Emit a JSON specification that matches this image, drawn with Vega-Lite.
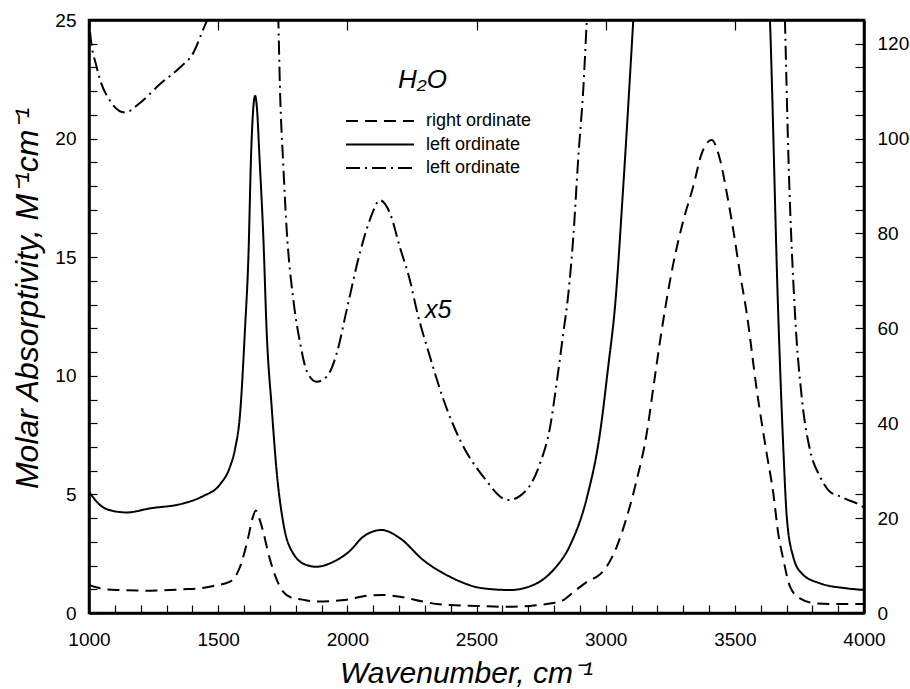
{
  "$schema": "https://vega.github.io/schema/vega-lite/v6.json",
  "width": 775,
  "height": 593,
  "autosize": {"type": "none"},
  "padding": {"left": 89, "top": 20, "right": 46, "bottom": 76},
  "background": "white",
  "config": {
    "font": "Liberation Sans",
    "view": {"stroke": "black", "strokeWidth": 2.5},
    "axis": {
      "domainColor": "black", "domainWidth": 2.5, "tickColor": "black", "tickWidth": 1.2,
      "labelColor": "black", "labelFontSize": 19, "labelFont": "Liberation Sans",
      "titleFont": "Liberation Sans", "titleFontStyle": "italic", "titleFontWeight": "normal",
      "titleFontSize": 30, "titleColor": "black", "grid": false, "zindex": 1,
      "labelOverlap": false, "labelFlush": false, "labelBound": false
    },
    "legend": {
      "symbolType": "stroke", "symbolSize": 4624, "symbolStrokeWidth": 2, "symbolStrokeColor": "black",
      "labelFontSize": 18, "labelFont": "Liberation Sans", "labelColor": "black", "labelOffset": 11
    }
  },
  "datasets": {
    "left": [
      {"x": 1000, "y": 5.11, "series": "left ordinate"},
      {"x": 1043, "y": 4.55, "series": "left ordinate"},
      {"x": 1094, "y": 4.30, "series": "left ordinate"},
      {"x": 1146, "y": 4.24, "series": "left ordinate"},
      {"x": 1236, "y": 4.41, "series": "left ordinate"},
      {"x": 1365, "y": 4.62, "series": "left ordinate"},
      {"x": 1440, "y": 4.92, "series": "left ordinate"},
      {"x": 1507, "y": 5.42, "series": "left ordinate"},
      {"x": 1546, "y": 6.17, "series": "left ordinate"},
      {"x": 1565, "y": 6.9, "series": "left ordinate"},
      {"x": 1585, "y": 8.43, "series": "left ordinate"},
      {"x": 1604, "y": 12.0, "series": "left ordinate"},
      {"x": 1617, "y": 15.0, "series": "left ordinate"},
      {"x": 1628, "y": 19.5, "series": "left ordinate"},
      {"x": 1636, "y": 21.3, "series": "left ordinate"},
      {"x": 1643, "y": 21.8, "series": "left ordinate"},
      {"x": 1650, "y": 21.3, "series": "left ordinate"},
      {"x": 1660, "y": 19.2, "series": "left ordinate"},
      {"x": 1675, "y": 15.8, "series": "left ordinate"},
      {"x": 1688, "y": 11.8, "series": "left ordinate"},
      {"x": 1707, "y": 8.7, "series": "left ordinate"},
      {"x": 1727, "y": 5.9, "series": "left ordinate"},
      {"x": 1752, "y": 3.8, "series": "left ordinate"},
      {"x": 1791, "y": 2.5, "series": "left ordinate"},
      {"x": 1843, "y": 2.02, "series": "left ordinate"},
      {"x": 1881, "y": 1.95, "series": "left ordinate"},
      {"x": 1946, "y": 2.16, "series": "left ordinate"},
      {"x": 2010, "y": 2.62, "series": "left ordinate"},
      {"x": 2062, "y": 3.22, "series": "left ordinate"},
      {"x": 2133, "y": 3.50, "series": "left ordinate"},
      {"x": 2204, "y": 3.15, "series": "left ordinate"},
      {"x": 2294, "y": 2.23, "series": "left ordinate"},
      {"x": 2397, "y": 1.53, "series": "left ordinate"},
      {"x": 2526, "y": 1.04, "series": "left ordinate"},
      {"x": 2630, "y": 0.97, "series": "left ordinate"},
      {"x": 2733, "y": 1.25, "series": "left ordinate"},
      {"x": 2797, "y": 1.81, "series": "left ordinate"},
      {"x": 2862, "y": 2.85, "series": "left ordinate"},
      {"x": 2927, "y": 4.85, "series": "left ordinate"},
      {"x": 2978, "y": 7.58, "series": "left ordinate"},
      {"x": 3010, "y": 10.4, "series": "left ordinate"},
      {"x": 3036, "y": 12.9, "series": "left ordinate"},
      {"x": 3068, "y": 17.97, "series": "left ordinate"},
      {"x": 3107, "y": 25.0, "series": "left ordinate"},
      {"x": 3150, "y": 33.0, "series": "left ordinate"},
      {"x": 3600, "y": 33.0, "series": "left ordinate"},
      {"x": 3636, "y": 25.0, "series": "left ordinate"},
      {"x": 3668, "y": 12.6, "series": "left ordinate"},
      {"x": 3688, "y": 6.87, "series": "left ordinate"},
      {"x": 3701, "y": 4.06, "series": "left ordinate"},
      {"x": 3726, "y": 2.37, "series": "left ordinate"},
      {"x": 3759, "y": 1.67, "series": "left ordinate"},
      {"x": 3830, "y": 1.25, "series": "left ordinate"},
      {"x": 3933, "y": 1.04, "series": "left ordinate"},
      {"x": 4000, "y": 0.97, "series": "left ordinate"},

      {"x": 1000, "y": 25.6, "series": "left ordinate x5"},
      {"x": 1004, "y": 24.5, "series": "left ordinate x5"},
      {"x": 1030, "y": 23.0, "series": "left ordinate x5"},
      {"x": 1081, "y": 21.6, "series": "left ordinate x5"},
      {"x": 1139, "y": 21.1, "series": "left ordinate x5"},
      {"x": 1197, "y": 21.5, "series": "left ordinate x5"},
      {"x": 1275, "y": 22.3, "series": "left ordinate x5"},
      {"x": 1352, "y": 23.0, "series": "left ordinate x5"},
      {"x": 1403, "y": 23.6, "series": "left ordinate x5"},
      {"x": 1442, "y": 24.6, "series": "left ordinate x5"},
      {"x": 1457, "y": 25.0, "series": "left ordinate x5"},
      {"x": 1480, "y": 26.0, "series": "left ordinate x5"},
      {"x": 1720, "y": 31.0, "series": "left ordinate x5"},
      {"x": 1733, "y": 25.0, "series": "left ordinate x5"},
      {"x": 1739, "y": 22.2, "series": "left ordinate x5"},
      {"x": 1752, "y": 18.9, "series": "left ordinate x5"},
      {"x": 1765, "y": 16.2, "series": "left ordinate x5"},
      {"x": 1791, "y": 13.2, "series": "left ordinate x5"},
      {"x": 1817, "y": 11.4, "series": "left ordinate x5"},
      {"x": 1843, "y": 10.2, "series": "left ordinate x5"},
      {"x": 1881, "y": 9.75, "series": "left ordinate x5"},
      {"x": 1920, "y": 9.96, "series": "left ordinate x5"},
      {"x": 1959, "y": 10.95, "series": "left ordinate x5"},
      {"x": 1998, "y": 12.8, "series": "left ordinate x5"},
      {"x": 2049, "y": 15.2, "series": "left ordinate x5"},
      {"x": 2088, "y": 16.6, "series": "left ordinate x5"},
      {"x": 2126, "y": 17.4, "series": "left ordinate x5"},
      {"x": 2165, "y": 16.85, "series": "left ordinate x5"},
      {"x": 2204, "y": 15.4, "series": "left ordinate x5"},
      {"x": 2243, "y": 14.0, "series": "left ordinate x5"},
      {"x": 2270, "y": 12.7, "series": "left ordinate x5"},
      {"x": 2320, "y": 10.8, "series": "left ordinate x5"},
      {"x": 2372, "y": 9.0, "series": "left ordinate x5"},
      {"x": 2436, "y": 7.3, "series": "left ordinate x5"},
      {"x": 2526, "y": 5.75, "series": "left ordinate x5"},
      {"x": 2623, "y": 4.76, "series": "left ordinate x5"},
      {"x": 2694, "y": 5.19, "series": "left ordinate x5"},
      {"x": 2746, "y": 6.31, "series": "left ordinate x5"},
      {"x": 2785, "y": 7.85, "series": "left ordinate x5"},
      {"x": 2810, "y": 9.68, "series": "left ordinate x5"},
      {"x": 2836, "y": 11.8, "series": "left ordinate x5"},
      {"x": 2855, "y": 13.4, "series": "left ordinate x5"},
      {"x": 2875, "y": 15.9, "series": "left ordinate x5"},
      {"x": 2894, "y": 19.2, "series": "left ordinate x5"},
      {"x": 2914, "y": 22.2, "series": "left ordinate x5"},
      {"x": 2927, "y": 25.0, "series": "left ordinate x5"},
      {"x": 2950, "y": 29.6, "series": "left ordinate x5"},
      {"x": 3680, "y": 31.0, "series": "left ordinate x5"},
      {"x": 3694, "y": 25.0, "series": "left ordinate x5"},
      {"x": 3707, "y": 19.4, "series": "left ordinate x5"},
      {"x": 3733, "y": 12.6, "series": "left ordinate x5"},
      {"x": 3760, "y": 9.0, "series": "left ordinate x5"},
      {"x": 3791, "y": 6.87, "series": "left ordinate x5"},
      {"x": 3830, "y": 5.75, "series": "left ordinate x5"},
      {"x": 3868, "y": 5.11, "series": "left ordinate x5"},
      {"x": 3900, "y": 4.95, "series": "left ordinate x5"},
      {"x": 3933, "y": 4.79, "series": "left ordinate x5"},
      {"x": 3972, "y": 4.62, "series": "left ordinate x5"},
      {"x": 4000, "y": 4.45, "series": "left ordinate x5"}
    ],
    "right": [
      {"x": 1000, "y": 5.9, "series": "right ordinate"},
      {"x": 1043, "y": 5.2, "series": "right ordinate"},
      {"x": 1107, "y": 4.85, "series": "right ordinate"},
      {"x": 1236, "y": 4.7, "series": "right ordinate"},
      {"x": 1365, "y": 5.0, "series": "right ordinate"},
      {"x": 1430, "y": 5.2, "series": "right ordinate"},
      {"x": 1481, "y": 5.7, "series": "right ordinate"},
      {"x": 1546, "y": 6.6, "series": "right ordinate"},
      {"x": 1585, "y": 9.8, "series": "right ordinate"},
      {"x": 1617, "y": 16.1, "series": "right ordinate"},
      {"x": 1633, "y": 20.0, "series": "right ordinate"},
      {"x": 1646, "y": 21.6, "series": "right ordinate"},
      {"x": 1660, "y": 19.8, "series": "right ordinate"},
      {"x": 1675, "y": 17.0, "series": "right ordinate"},
      {"x": 1688, "y": 14.0, "series": "right ordinate"},
      {"x": 1701, "y": 11.2, "series": "right ordinate"},
      {"x": 1727, "y": 7.0, "series": "right ordinate"},
      {"x": 1751, "y": 4.5, "series": "right ordinate"},
      {"x": 1791, "y": 3.1, "series": "right ordinate"},
      {"x": 1817, "y": 2.9, "series": "right ordinate"},
      {"x": 1881, "y": 2.4, "series": "right ordinate"},
      {"x": 1998, "y": 2.8, "series": "right ordinate"},
      {"x": 2075, "y": 3.65, "series": "right ordinate"},
      {"x": 2139, "y": 3.8, "series": "right ordinate"},
      {"x": 2217, "y": 3.3, "series": "right ordinate"},
      {"x": 2294, "y": 2.4, "series": "right ordinate"},
      {"x": 2346, "y": 1.9, "series": "right ordinate"},
      {"x": 2397, "y": 1.7, "series": "right ordinate"},
      {"x": 2501, "y": 1.5, "series": "right ordinate"},
      {"x": 2604, "y": 1.3, "series": "right ordinate"},
      {"x": 2707, "y": 1.5, "series": "right ordinate"},
      {"x": 2785, "y": 2.0, "series": "right ordinate"},
      {"x": 2836, "y": 2.7, "series": "right ordinate"},
      {"x": 2862, "y": 3.8, "series": "right ordinate"},
      {"x": 2901, "y": 5.5, "series": "right ordinate"},
      {"x": 2940, "y": 7.0, "series": "right ordinate"},
      {"x": 2965, "y": 7.6, "series": "right ordinate"},
      {"x": 3004, "y": 9.8, "series": "right ordinate"},
      {"x": 3043, "y": 14.0, "series": "right ordinate"},
      {"x": 3082, "y": 20.3, "series": "right ordinate"},
      {"x": 3120, "y": 28.0, "series": "right ordinate"},
      {"x": 3159, "y": 37.9, "series": "right ordinate"},
      {"x": 3185, "y": 47.7, "series": "right ordinate"},
      {"x": 3211, "y": 57.5, "series": "right ordinate"},
      {"x": 3236, "y": 66.0, "series": "right ordinate"},
      {"x": 3262, "y": 73.7, "series": "right ordinate"},
      {"x": 3301, "y": 82.8, "series": "right ordinate"},
      {"x": 3339, "y": 89.9, "series": "right ordinate"},
      {"x": 3372, "y": 96.9, "series": "right ordinate"},
      {"x": 3410, "y": 99.7, "series": "right ordinate"},
      {"x": 3443, "y": 95.5, "series": "right ordinate"},
      {"x": 3469, "y": 88.5, "series": "right ordinate"},
      {"x": 3494, "y": 80.7, "series": "right ordinate"},
      {"x": 3520, "y": 71.6, "series": "right ordinate"},
      {"x": 3546, "y": 63.2, "series": "right ordinate"},
      {"x": 3585, "y": 47.0, "series": "right ordinate"},
      {"x": 3623, "y": 33.7, "series": "right ordinate"},
      {"x": 3649, "y": 25.2, "series": "right ordinate"},
      {"x": 3668, "y": 16.8, "series": "right ordinate"},
      {"x": 3688, "y": 11.2, "series": "right ordinate"},
      {"x": 3714, "y": 5.5, "series": "right ordinate"},
      {"x": 3752, "y": 3.1, "series": "right ordinate"},
      {"x": 3817, "y": 2.0, "series": "right ordinate"},
      {"x": 3894, "y": 1.9, "series": "right ordinate"},
      {"x": 4000, "y": 1.9, "series": "right ordinate"}
    ],
    "title_note": [{"x": 2196, "y": 22.13, "label": "H₂O"}],
    "scale_note": [{"x": 2301, "y": 12.44, "label": "x5"}]
  },
  "layer": [
    {
      "data": {"name": "left"},
      "mark": {"type": "line", "interpolate": "monotone", "clip": true, "color": "black", "strokeWidth": 2},
      "encoding": {
        "x": {
          "field": "x", "type": "quantitative",
          "scale": {"domain": [1000, 4000], "nice": false, "zero": false},
          "axis": {
            "orient": "bottom",
            "values": [1000,1100,1200,1300,1400,1500,1600,1700,1800,1900,2000,2100,2200,2300,2400,2500,2600,2700,2800,2900,3000,3100,3200,3300,3400,3500,3600,3700,3800,3900,4000],
            "format": "d",
            "labelExpr": "datum.value % 500 === 0 ? datum.label : ''",
            "tickSize": -8,
            "labelPadding": 25,
            "title": "Wavenumber, cm⁻¹",
            "titleX": 377, "titleY": 69, "titleAlign": "center", "titleBaseline": "alphabetic"
          }
        },
        "y": {
          "field": "y", "type": "quantitative",
          "scale": {"domain": [0, 25], "nice": false, "zero": false},
          "axis": {
            "orient": "left",
            "values": [0,1,2,3,4,5,6,7,8,9,10,11,12,13,14,15,16,17,18,19,20,21,22,23,24,25],
            "labelExpr": "datum.value % 5 === 0 ? datum.label : ''",
            "tickSize": -8,
            "labelPadding": 21,
            "title": "Molar Absorptivity, M⁻¹cm⁻¹",
            "titleFontSize": 32,
            "titleX": -52, "titleY": 278, "titleAngle": -90, "titleAlign": "center", "titleBaseline": "alphabetic"
          }
        },
        "strokeDash": {
          "field": "series", "type": "nominal",
          "scale": {
            "domain": ["right ordinate", "left ordinate", "left ordinate x5"],
            "range": [[12, 7], [1, 0], [14, 5, 2, 5]]
          },
          "legend": {
            "title": null, "orient": "none", "legendX": 256, "legendY": 91,
            "clipHeight": 20, "rowPadding": 3.5,
            "labelExpr": "datum.label === 'left ordinate x5' ? 'left ordinate' : datum.label"
          }
        },
        "detail": {"field": "series"}
      }
    },
    {
      "data": {"name": "right"},
      "mark": {"type": "line", "interpolate": "monotone", "clip": true, "color": "black", "strokeWidth": 2},
      "encoding": {
        "x": {
          "field": "x", "type": "quantitative",
          "scale": {"domain": [1000, 4000], "nice": false, "zero": false},
          "axis": {
            "orient": "top", "values": [1000,1500,2000,2500,3000,3500,4000],
            "labels": false, "tickSize": -10, "title": null
          }
        },
        "y": {
          "field": "y", "type": "quantitative",
          "scale": {"domain": [0, 125], "nice": false, "zero": false},
          "axis": {
            "orient": "right",
            "values": [0,5,10,15,20,25,30,35,40,45,50,55,60,65,70,75,80,85,90,95,100,105,110,115,120,125],
            "labelExpr": "datum.value % 20 === 0 ? datum.label : ''",
            "tickSize": -9,
            "labelPadding": 22,
            "title": null
          }
        },
        "strokeDash": {
          "field": "series", "type": "nominal",
          "scale": {
            "domain": ["right ordinate", "left ordinate", "left ordinate x5"],
            "range": [[12, 7], [1, 0], [14, 5, 2, 5]]
          }
        }
      }
    },
    {
      "data": {"name": "title_note"},
      "mark": {"type": "text", "font": "Liberation Sans", "fontStyle": "italic", "fontSize": 26, "align": "left", "baseline": "alphabetic", "color": "black"},
      "encoding": {
        "x": {"field": "x", "type": "quantitative", "scale": {"domain": [1000, 4000], "nice": false, "zero": false}, "axis": null},
        "y": {"field": "y", "type": "quantitative", "scale": {"domain": [0, 25], "nice": false, "zero": false}, "axis": null},
        "text": {"field": "label"}
      }
    },
    {
      "data": {"name": "scale_note"},
      "mark": {"type": "text", "font": "Liberation Sans", "fontStyle": "italic", "fontSize": 25, "align": "left", "baseline": "alphabetic", "color": "black"},
      "encoding": {
        "x": {"field": "x", "type": "quantitative", "scale": {"domain": [1000, 4000], "nice": false, "zero": false}, "axis": null},
        "y": {"field": "y", "type": "quantitative", "scale": {"domain": [0, 25], "nice": false, "zero": false}, "axis": null},
        "text": {"field": "label"}
      }
    }
  ],
  "resolve": {"scale": {"y": "independent"}, "axis": {"x": "independent"}}
}
